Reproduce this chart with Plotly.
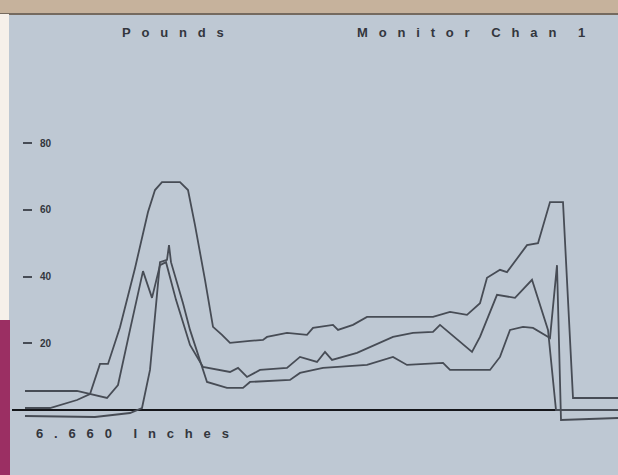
import plotly.graph_objects as go

# ---- data (positions along the scan, force in pounds) ----
pos_a = [25, 50, 77, 90, 100, 108, 120, 135, 148, 155, 162, 180, 188, 195, 205, 213, 222, 230,
         250, 263, 267, 287, 307, 313, 333, 338, 353, 367, 433, 450, 467, 480, 487, 500, 507,
         527, 538, 550, 563, 573, 618]
lbs_a = [0.6, 0.6, 3.0, 4.8, 13.8, 13.8, 24.8, 42.5, 59.3, 65.9, 68.3, 68.3, 65.9, 55.4, 39.0,
         24.9, 22.5, 20.1, 20.7, 21.0, 21.9, 23.1, 22.5, 24.6, 25.5, 24.0, 25.5, 27.9, 27.9,
         29.4, 28.5, 32.0, 39.6, 42.0, 41.3, 49.4, 50.0, 62.3, 62.3, 3.6, 3.6]

pos_b = [25, 77, 107, 118, 130, 143, 152, 160, 166, 176, 190, 203, 230, 238, 247, 260, 287, 300,
         317, 325, 332, 357, 393, 413, 433, 440, 472, 480, 497, 515, 532, 548, 556, 618]
lbs_b = [5.7, 5.7, 3.6, 7.5, 24.0, 41.6, 33.6, 43.4, 44.3, 33.0, 19.5, 12.9, 11.4, 12.6, 9.9,
         12.0, 12.6, 15.9, 14.4, 17.4, 15.0, 17.1, 21.9, 23.1, 23.4, 25.5, 17.4, 21.9, 34.5,
         33.6, 39.0, 24.0, 0.0, 0.0]

pos_c = [25, 95, 130, 142, 150, 160, 167, 169, 171, 183, 190, 207, 227, 243, 250, 290, 300, 323,
         367, 393, 407, 443, 450, 490, 500, 510, 523, 533, 550, 557, 561, 618]
lbs_c = [-1.8, -2.1, -0.9, 0.6, 12.0, 44.3, 45.0, 49.4, 44.3, 32.0, 24.0, 8.4, 6.6, 6.6, 8.4,
         9.0, 11.1, 12.6, 13.5, 15.9, 13.5, 14.1, 12.0, 12.0, 15.9, 24.0, 24.9, 24.6, 21.6,
         43.4, -3.0, -2.4]

y_ticks = [20, 40, 60, 80]
title_left = "Pounds"
title_right = "Monitor Chan 1"
footer = "6.660 Inches"

SCREEN = "#bec8d3"
INK = "#474c55"
TEXT = "#33363d"


def spaced(s, n=3):
    gap = "\u00a0" * n
    words = [gap.join(list(w)) for w in s.split(" ")]
    return (gap * 2).join(words)


fig = go.Figure()
for xs, ys in [(pos_a, lbs_a), (pos_b, lbs_b), (pos_c, lbs_c)]:
    fig.add_trace(go.Scatter(x=xs, y=ys, mode="lines",
                             line=dict(color=INK, width=1.8),
                             hoverinfo="skip", showlegend=False))

# page geometry helpers (plot area: x 12..618, y 40..460 px)
L, R, T, B = 12, 618, 40, 460
def px(x):
    return (x - L) / (R - L)
def py(y):
    return (B - y) / (B - T)

shapes = [
    dict(type="rect", xref="paper", yref="paper", x0=px(0), x1=px(618), y0=py(14), y1=py(0),
         fillcolor="#c6b29c", line_width=0, layer="above"),
    dict(type="line", xref="paper", yref="paper", x0=px(0), x1=px(618), y0=py(14), y1=py(14),
         line=dict(color="#756a5f", width=2), layer="above"),
    dict(type="rect", xref="paper", yref="paper", x0=px(0), x1=px(9), y0=py(320), y1=py(14),
         fillcolor="#f6f0ea", line_width=0, layer="above"),
    dict(type="rect", xref="paper", yref="paper", x0=px(0), x1=px(10), y0=py(475), y1=py(320),
         fillcolor="#9b2f63", line_width=0, layer="above"),
]

FONT = dict(family="Liberation Sans", size=13, color=TEXT, weight="bold")
annotations = [
    dict(text=spaced(title_left), xref="paper", yref="paper", x=px(173), y=py(32),
         xanchor="center", yanchor="middle", showarrow=False, font=FONT),
    dict(text=spaced(title_right), xref="paper", yref="paper", x=px(471), y=py(32),
         xanchor="center", yanchor="middle", showarrow=False, font=FONT),
    dict(text=spaced(footer), xref="paper", yref="paper", x=px(132), y=py(433),
         xanchor="center", yanchor="middle", showarrow=False, font=FONT),
]

fig.update_layout(
    width=618, height=475,
    margin=dict(l=L, r=618 - R, t=T, b=475 - B),
    paper_bgcolor=SCREEN, plot_bgcolor=SCREEN,
    xaxis=dict(range=[L, R], visible=False, fixedrange=True),
    yaxis=dict(range=[-(B - 410) / 3.3375, (410 - T) / 3.3375],
               anchor="free", position=px(32), fixedrange=True,
               tickvals=y_ticks, ticktext=[str(v) for v in y_ticks],
               ticks="outside", ticklen=9, tickwidth=1.5, tickcolor=INK,
               ticklabelposition="inside", ticklabelstandoff=4,
               tickfont=dict(family="Liberation Sans", size=10, color=TEXT, weight="bold"),
               showgrid=False, showline=False,
               zeroline=True, zerolinecolor="#15161a", zerolinewidth=2.2),
    shapes=shapes, annotations=annotations,
)

fig.write_html("out.html", config={"displayModeBar": False},
               post_script="document.body.style.margin='0';document.body.style.overflow='hidden';")
